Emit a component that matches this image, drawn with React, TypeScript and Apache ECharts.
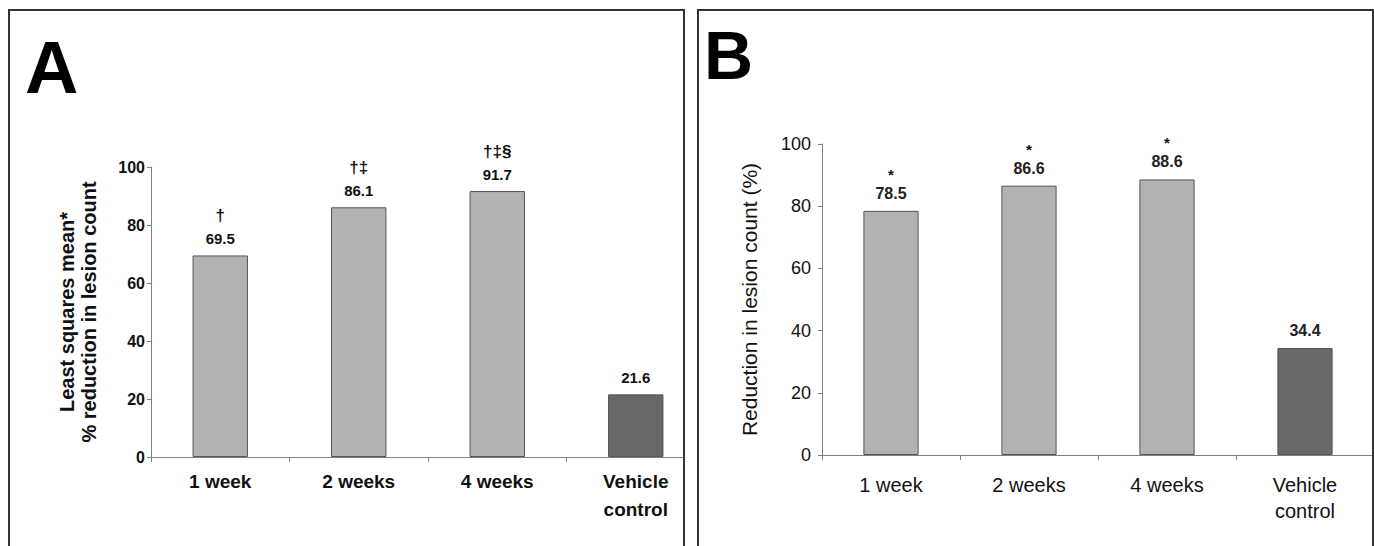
import React, { useEffect, useRef } from "react";
import * as echarts from "echarts";

const categories = ["1 week", "2 weeks", "4 weeks", "Vehicle\ncontrol"];
const valuesA = [69.5, 86.1, 91.7, 21.6];
const marksA = ["†", "†‡", "†‡§", ""];
const valuesB = [78.5, 86.6, 88.6, 34.4];
const marksB = ["*", "*", "*", ""];
const yTicks = [0, 20, 40, 60, 80, 100];

const LIGHT = "#b2b2b2";
const DARK = "#686868";
const FONT = "'Liberation Sans', Arial, sans-serif";
const NARROW = "'Liberation Sans Narrow', 'Liberation Sans', Arial, sans-serif";

export default function App() {
  const ref = useRef<HTMLDivElement>(null);
  useEffect(() => {
    document.body.style.margin = "0";
    const chart = echarts.init(ref.current!, null, { renderer: "svg" });
    const mkData = (vals: number[], marks: string[]) =>
      vals.map((v, i) => ({
        value: v,
        mark: marks[i],
        itemStyle: { color: i === 3 ? DARK : LIGHT },
      }));
    const frame = (x: number) => ({
      type: "rect",
      z: 200,
      shape: { x, y: 10, width: 675, height: 560 },
      style: { fill: "none", stroke: "#333", lineWidth: 2 },
    });
    chart.setOption({
      animation: false,
      backgroundColor: "#fff",
      grid: [
        { left: 151, top: 167, width: 554, height: 290 },
        { left: 822, top: 144, width: 564, height: 311 },
      ],
      xAxis: [0, 1].map((g) => ({
        type: "category",
        gridIndex: g,
        data: categories,
        axisLine: { lineStyle: { color: "#808080", width: 1 } },
        axisTick: { show: true, length: 5, lineStyle: { color: "#808080" } },
        axisLabel: {
          color: "#111",
          fontFamily: FONT,
          fontSize: g === 0 ? 19 : 20,
          fontWeight: g === 0 ? "bold" : "normal",
          lineHeight: g === 0 ? 28 : 26,
          margin: g === 0 ? 10 : 17,
          interval: 0,
        },
      })),
      yAxis: [0, 1].map((g) => ({
        type: "value",
        gridIndex: g,
        min: 0,
        max: 100,
        interval: 20,
        splitLine: { show: false },
        axisLine: { show: true, lineStyle: { color: "#808080", width: 1 } },
        axisTick: { show: true, length: 4, lineStyle: { color: "#808080" } },
        axisLabel: {
          color: "#111",
          fontFamily: FONT,
          fontSize: g === 0 ? 16 : 18,
          fontWeight: g === 0 ? "bold" : "normal",
          margin: g === 0 ? 6 : 11,
          formatter: (v: number) => (yTicks.includes(v) ? String(v) : ""),
        },
        name:
          g === 0
            ? "Least squares mean*\n% reduction in lesion count"
            : "Reduction in lesion count (%)",
        nameLocation: "middle",
        nameRotate: 90,
        nameGap: g === 0 ? 51 : 62,
        nameTextStyle: {
          color: "#111",
          fontFamily: FONT,
          fontSize: g === 0 ? 20 : 21,
          fontWeight: g === 0 ? "bold" : "normal",
          lineHeight: 22,
        },
      })),
      series: [
        {
          type: "bar",
          xAxisIndex: 0,
          yAxisIndex: 0,
          barWidth: "40%",
          data: mkData(valuesA, marksA),
          itemStyle: { borderColor: "#555", borderWidth: 1 },
          label: {
            show: true,
            position: "top",
            distance: 5,
            formatter: (p: any) =>
              p.data.mark ? `{m|${p.data.mark}}\n{v|${p.value}}` : `{v|${p.value}}`,
            rich: {
              m: { fontFamily: FONT, fontSize: 17, fontWeight: "bold", color: "#111", lineHeight: 23 },
              v: { fontFamily: FONT, fontSize: 15, fontWeight: "bold", color: "#111", lineHeight: 23 },
            },
          },
        },
        {
          type: "bar",
          xAxisIndex: 1,
          yAxisIndex: 1,
          barWidth: "40%",
          data: mkData(valuesB, marksB),
          itemStyle: { borderColor: "#555", borderWidth: 1 },
          label: {
            show: true,
            position: "top",
            distance: 8,
            formatter: (p: any) =>
              p.data.mark ? `{m|${p.data.mark}}\n{v|${p.value}}` : `{v|${p.value}}`,
            rich: {
              m: { fontFamily: FONT, fontSize: 15, fontWeight: "bold", color: "#111", lineHeight: 19 },
              v: { fontFamily: NARROW, fontSize: 16, fontWeight: "bold", color: "#222", lineHeight: 19 },
            },
          },
        },
      ],
      graphic: [
        { type: "rect", z: 150, shape: { x: 684, y: 430, width: 22, height: 50 }, style: { fill: "#fff" } },
        { type: "rect", z: 150, shape: { x: 1372, y: 430, width: 20, height: 50 }, style: { fill: "#fff" } },
        frame(9),
        frame(698),
        {
          type: "text",
          z: 200,
          left: 25,
          top: 30,
          style: { text: "A", fontFamily: FONT, fontSize: 74, fontWeight: "bold", fill: "#000" },
        },
        {
          type: "text",
          z: 200,
          left: 704,
          top: 21,
          style: { text: "B", fontFamily: FONT, fontSize: 68, fontWeight: "bold", fill: "#000" },
        },
      ],
    });
    return () => chart.dispose();
  }, []);
  return <div ref={ref} style={{ width: 1374, height: 546 }} />;
}
